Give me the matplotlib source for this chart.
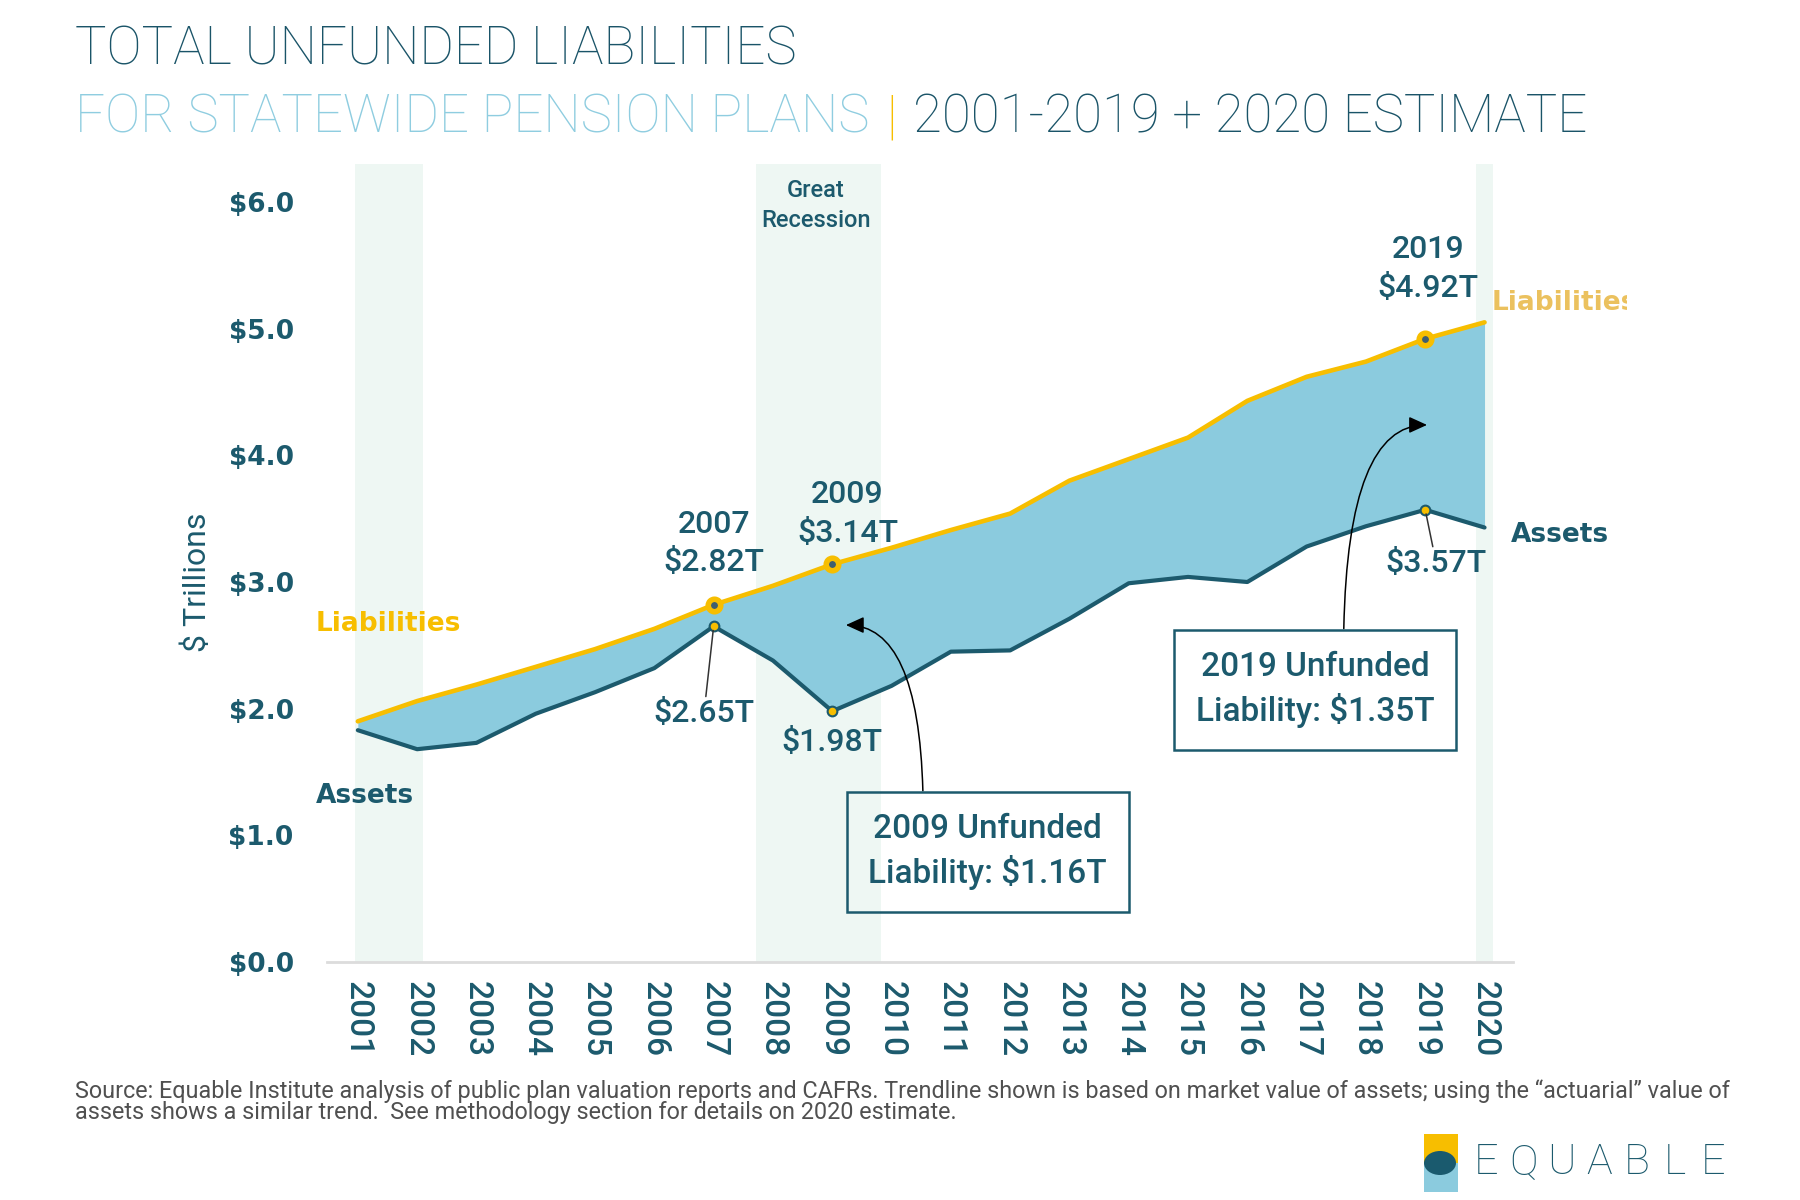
import numpy as np
import matplotlib
matplotlib.use("Agg")
import matplotlib.pyplot as plt
from matplotlib.patches import Rectangle, Ellipse
from matplotlib.transforms import Bbox, TransformedBbox

# data ($ trillions)
years = list(range(2001, 2021))
liabilities = [1.90, 2.06, 2.19, 2.33, 2.47, 2.63, 2.82, 2.97, 3.14, 3.27,
               3.41, 3.54, 3.80, 3.97, 4.14, 4.43, 4.62, 4.74, 4.92, 5.05]
assets = [1.83, 1.68, 1.73, 1.96, 2.13, 2.32, 2.65, 2.38, 1.98, 2.18,
          2.45, 2.46, 2.71, 2.99, 3.04, 3.00, 3.28, 3.44, 3.57, 3.43]
recessions = [(2000.95, 2002.1), (2007.72, 2009.83), (2019.86, 2020.15)]
highlight_years = [2007, 2009, 2019]
yticks = [0, 1, 2, 3, 4, 5, 6]

DARK = '#1C5A6D'
TITLE_DARK = '#1A5468'
GOLD = '#F7BE00'
GOLD_LIGHT = '#EBC15E'
FILL = '#8BCBDE'
BAND = '#EEF7F3'
LIGHT = '#8FCDE0'
DIN = 'Roboto'

W, H = 1800, 1200
def fx(px): return px / W
def fy(py): return 1 - py / H

fig = plt.figure(figsize=(18, 12), dpi=100)
ax = fig.add_axes([fx(327), fy(962), (1513 - 327) / W, (962 - 164) / H])

for a, b in recessions:
    ax.axvspan(a, b, color=BAND, lw=0, zorder=0)
ax.fill_between(years, assets, liabilities, color=FILL, lw=0, zorder=1)
ax.plot(years, liabilities, color=GOLD, lw=3.3, zorder=3, solid_capstyle='round')
ax.plot(years, assets, color=DARK, lw=3.0, zorder=3, solid_capstyle='round')

hl_liab = [liabilities[years.index(y)] for y in highlight_years]
hl_assets = [assets[years.index(y)] for y in highlight_years]
ax.plot(highlight_years, hl_liab, 'o', ms=9, mfc='#3E5F70', mec=GOLD, mew=4, zorder=5)
ax.plot(highlight_years, hl_assets, 'o', ms=7, mfc=GOLD, mec=DARK, mew=1.5, zorder=5)

ax.set_xlim(2000.48, 2020.48)
ax.set_ylim(0, 6.30)
for s in ['top', 'right', 'left']:
    ax.spines[s].set_visible(False)
ax.spines['bottom'].set_color('#DCDCDC')
ax.spines['bottom'].set_linewidth(2)
ax.tick_params(length=0)
ax.tick_params(axis='y', pad=24)
ax.tick_params(axis='x', pad=14)
ax.set_yticks(yticks, labels=[f'${v:.1f}' for v in yticks])
ax.set_xticks(years, labels=[str(y) for y in years], rotation=270)
for lbl in ax.get_yticklabels():
    lbl.set(family='DejaVu Sans', weight='bold', fontsize=19, color=DARK)
for lbl in ax.get_xticklabels():
    lbl.set(family=DIN, weight='medium', fontsize=24, color=DARK)

fig.text(fx(197), fy(582), '$ Trillions', rotation=90, ha='center', va='center',
         family=DIN, fontsize=23, color=DARK)

# point labels
lab = dict(family=DIN, weight='medium', fontsize=23, color=DARK, ha='center', linespacing=1.4)
i07, i09, i19 = (years.index(y) for y in highlight_years)
ax.annotate(f'2007\n${liabilities[i07]:.2f}T', xy=(2007, liabilities[i07]), xytext=(0, 20),
            textcoords='offset points', va='bottom', zorder=7, **lab)
ax.annotate(f'2009\n${liabilities[i09]:.2f}T', xy=(2009, liabilities[i09]), xytext=(11, 12),
            textcoords='offset points', va='bottom', zorder=7, **lab)
ax.annotate(f'2019\n${liabilities[i19]:.2f}T', xy=(2019, liabilities[i19]), xytext=(2, 26),
            textcoords='offset points', va='bottom', zorder=7, **lab)
leader = dict(arrowstyle='-', color='#333333', lw=1.1, shrinkA=0, shrinkB=3)
ax.annotate(f'${assets[i07]:.2f}T', xy=(2007, assets[i07]), xytext=(-7, -63),
            textcoords='offset points', va='center', arrowprops=leader, zorder=7, **lab)
ax.annotate(f'${assets[i09]:.2f}T', xy=(2009, assets[i09]), xytext=(0, -12),
            textcoords='offset points', va='top', zorder=7, **lab)
ax.annotate(f'${assets[i19]:.2f}T', xy=(2019, assets[i19]), xytext=(8, -39),
            textcoords='offset points', va='center', arrowprops=leader, zorder=7, **lab)

# series labels
side = dict(family='DejaVu Sans', weight='bold', fontsize=19, va='center', ha='left')
ax.text(2000.29, 2.67, 'Liabilities', color=GOLD, **side)
ax.text(2000.30, 1.31, 'Assets', color=DARK, **side)
ax.text(2020.44, 3.37, 'Assets', color=DARK, **side)
rl = fig.text(2020.12, 5.20, 'Liabilities', color=GOLD_LIGHT, transform=ax.transData, **side)
rl.set_clip_box(TransformedBbox(Bbox([[0, 0], [fx(1627), 1]]), fig.transFigure))
rl.set_clip_on(True)

ax.text(2008.72, 5.97, 'Great\nRecession', family=DIN, weight='medium', fontsize=17,
        color=DARK, ha='center', va='center', linespacing=1.4)

# unfunded liability call-outs
box = dict(boxstyle='square,pad=0.65', fc='none', ec=DARK, lw=1.8)
arr = dict(arrowstyle='-|>,head_length=0.55,head_width=0.25', color='black', lw=1.1,
           connectionstyle='angle3,angleA=90,angleB=0', shrinkA=0, shrinkB=0,
           mutation_scale=20)
ax.annotate(f'2009 Unfunded\nLiability: ${liabilities[i09] - assets[i09]:.2f}T',
            xy=(2009.23, 2.66), xytext=(2011.62, 0.87), textcoords='data',
            family=DIN, weight='medium', fontsize=24, color=DARK, ha='center', va='center',
            linespacing=1.35, bbox=box, arrowprops=dict(arr, relpos=(0.23, 1.0)), zorder=6)
ax.annotate(f'2019 Unfunded\nLiability: ${liabilities[i19] - assets[i19]:.2f}T',
            xy=(2019.03, 4.24), xytext=(2017.14, 2.15), textcoords='data',
            family=DIN, weight='medium', fontsize=24, color=DARK, ha='center', va='center',
            linespacing=1.35, bbox=dict(box, fc='white'), arrowprops=dict(arr, relpos=(0.62, 1.0)),
            zorder=6)

# title
t1 = fig.text(fx(75), fy(50), 'TOTAL UNFUNDED LIABILITIES', family=DIN, weight='light',
              fontsize=38, color=TITLE_DARK, va='center')
y2 = fy(118)
t2 = fig.text(fx(75), y2, 'FOR STATEWIDE PENSION PLANS', family=DIN, weight='light',
              fontsize=38, color=LIGHT, va='center')
r = fig.canvas.get_renderer()
x_end = t2.get_window_extent(r).x1
bar = fig.text(fx(x_end + 22), y2, '|', family=DIN, weight='light', fontsize=38,
               color=GOLD, va='center', ha='center')
fig.text(fx(x_end + 44), y2, '2001-2019 + 2020 ESTIMATE', family=DIN, weight='light',
         fontsize=38, color=TITLE_DARK, va='center')

# source note
src = dict(family=DIN, weight='normal', fontsize=16.8, color='#505050', va='center')
fig.text(fx(75), fy(1091), 'Source: Equable Institute analysis of public plan valuation reports and '
         'CAFRs. Trendline shown is based on market value of assets; using the \u201cactuarial\u201d value of', **src)
fig.text(fx(75), fy(1113), 'assets shows a similar trend.  See methodology section for details on 2020 estimate.', **src)

# logo
fig.patches.append(Rectangle((fx(1424), fy(1163)), (1458 - 1424) / W, (1163 - 1134) / H,
                             transform=fig.transFigure, fc=GOLD, ec='none'))
fig.patches.append(Rectangle((fx(1424), fy(1192)), (1458 - 1424) / W, (1192 - 1163) / H,
                             transform=fig.transFigure, fc=FILL, ec='none'))
fig.patches.append(Ellipse((fx(1440), fy(1163)), 32 / W, 24 / H,
                           transform=fig.transFigure, fc='#1A5A6E', ec='none'))
for k, ch in enumerate('EQUABLE'):
    fig.text(fx(1486 + k * 37.8), fy(1163), ch, family=DIN, weight='light', fontsize=31,
             color=DARK, ha='center', va='center')

fig.savefig('out.png', dpi=100)
